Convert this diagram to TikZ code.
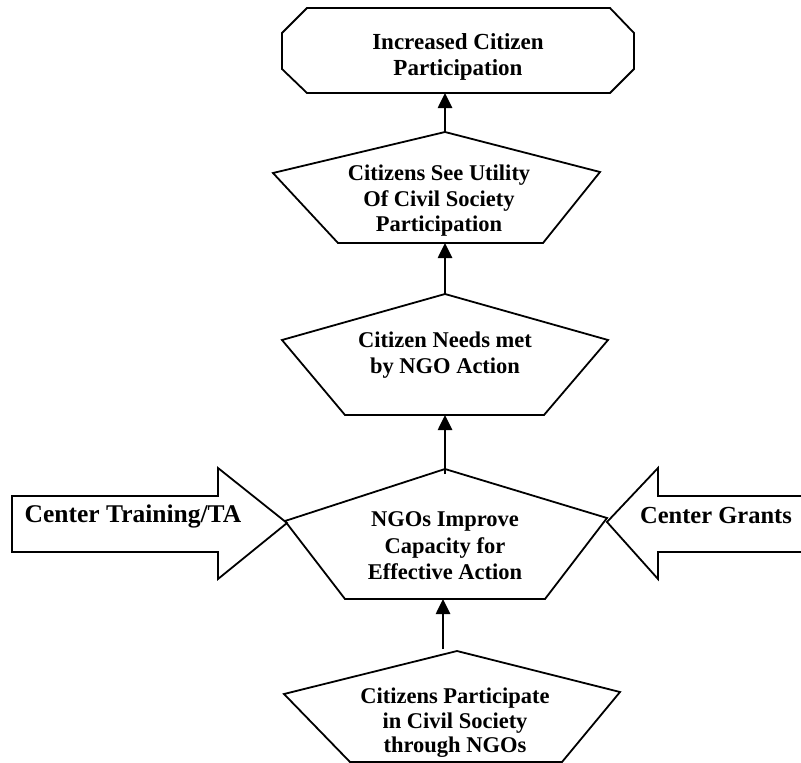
\documentclass[tikz,border=0pt]{standalone}
\usepackage{fontspec}
\setmainfont{Liberation Serif}
\usetikzlibrary{arrows.meta}
\begin{document}
\begin{tikzpicture}[x=1pt,y=-1pt,
  shapeline/.style={line width=1.8pt, line join=miter},
  flow/.style={line width=2.6pt,-{Triangle[length=15pt,width=14pt]}},
  lbl/.style={font=\fontsize{22.5}{25.5}\selectfont\bfseries, align=center, inner sep=0pt},
  side/.style={font=\fontsize{24.5}{28}\selectfont\bfseries, inner sep=0pt}]
\useasboundingbox (0,0) rectangle (801,763);

% side arrows
\draw[shapeline, fill=white] (12,496) -- (218,496) -- (218,468) -- (287,523) -- (218,579) -- (218,552) -- (12,552) -- cycle;
\draw[shapeline] (802,496) -- (658,496) -- (658,468) -- (607,522) -- (658,579) -- (658,552) -- (802,552);
\node[side, font=\fontsize{25.5}{28}\selectfont\bfseries] (ta) at (133,516) {Center Training/TA};
\node[side] (grants) at (716,516) {Center Grants};

% octagon
\draw[shapeline] (307,8) -- (610,8) -- (634,33) -- (634,69) -- (610,93) -- (307,93) -- (282,69) -- (282,33) -- cycle;
\coordinate (octb) at (445,93);
\node[lbl, font=\fontsize{23}{26}\selectfont\bfseries] (oct) at (458,57) {Increased Citizen\\Participation};

% pentagon 2
\draw[shapeline] (445,132) coordinate (p2t) -- (600,172) -- (543,243) -- (338,243) -- (273,173) -- cycle;
\coordinate (p2b) at (445,243);
\node[lbl] (p2) at (439,201) {Citizens See Utility\\Of Civil Society\\Participation};

% pentagon 3
\draw[shapeline] (445,294) coordinate (p3t) -- (608,340) -- (544,415) -- (345,415) -- (282,340) -- cycle;
\coordinate (p3b) at (445,415);
\node[lbl] (p3) at (445,355) {Citizen Needs met\\by NGO Action};

% pentagon 4
\draw[shapeline] (445,469) coordinate (p4t) -- (607,518) -- (545,599) -- (345,599) -- (285,521) -- cycle;
\coordinate (p4b) at (443,599);
\node[lbl, font=\fontsize{22.5}{26.5}\selectfont\bfseries] (p4) at (445,546) {NGOs Improve\\Capacity for\\Effective Action};

% pentagon 5
\draw[shapeline] (457,651) -- (620,692) -- (562,762) -- (350,762) -- (284,694) -- cycle;
\coordinate (p5t) at (443,649);
\begin{scope}
\clip (0,0) rectangle (801,761);
\node[lbl, font=\fontsize{22.5}{24.5}\selectfont\bfseries] (p5) at (455,723) {Citizens Participate\\in Civil Society\\through NGOs};
\end{scope}

% flow arrows
\draw[flow] (p2t) -- (octb);
\draw[flow] (p3t) -- (p2b);
\draw[flow] ([yshift=-5pt]p4t) -- (p3b);
\draw[flow] (p5t) -- (p4b);
\end{tikzpicture}
\end{document}
